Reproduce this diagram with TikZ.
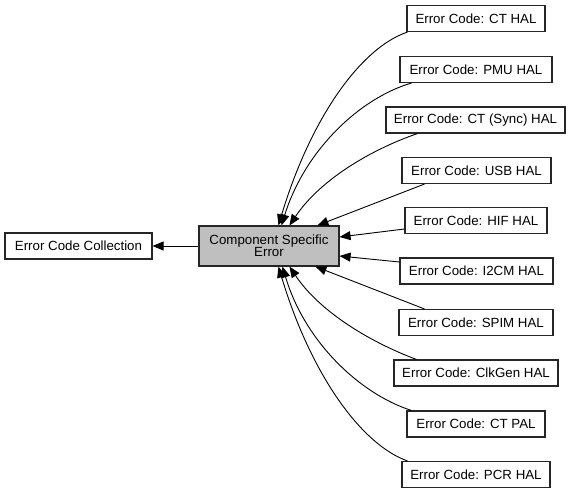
\documentclass[tikz,border=0pt]{standalone}
\usepackage{fontspec}
\setmainfont{Liberation Sans}
\usetikzlibrary{arrows.meta}
\begin{document}
\begin{tikzpicture}[x=1pt,y=-1pt,
  box/.style={draw=black!85,line width=1.1pt,fill=white,inner sep=0pt,
    minimum height=26pt,font=\fontsize{13.3}{15}\selectfont},
  arr/.style={draw=black,line width=0.9pt,-{Triangle[length=11pt,width=9pt]}}]
\useasboundingbox (0,0) rectangle (571,493);
\node[box,minimum width=147pt] (coll) at (78.5,246) {Error Code Collection};
\node[box,fill=black!25,minimum width=140pt,minimum height=40pt,align=center] (cse) at (269,246)
  {Component Specific\\[-3pt]Error};
\node[box,minimum width=138pt] (cthal) at (476,18.5) {Error Code: CT HAL};
\node[box,minimum width=152pt] (pmu) at (476,69.5) {Error Code: PMU HAL};
\node[box,minimum width=179pt] (ctsync) at (475.5,120) {Error Code: CT (Sync) HAL};
\node[box,minimum width=149pt] (usb) at (476.5,170.5) {Error Code: USB HAL};
\node[box,minimum width=142pt] (hif) at (476,220.5) {Error Code: HIF HAL};
\node[box,minimum width=153pt] (i2cm) at (476.5,271) {Error Code: I2CM HAL};
\node[box,minimum width=154pt] (spim) at (476,322.5) {Error Code: SPIM HAL};
\node[box,minimum width=164pt] (clk) at (476,373) {Error Code: ClkGen HAL};
\node[box,minimum width=138pt] (ctpal) at (476,424) {Error Code: CT PAL};
\node[box,minimum width=148pt] (pcr) at (476,474.5) {Error Code: PCR HAL};
\draw[arr] (cse.west) -- (coll.east);
\draw[arr] ([xshift=1pt]cthal.south west) .. controls (360,48) and (310,120) .. ([xshift=80pt]cse.north west);
\draw[arr] ([xshift=12pt]pmu.south west) .. controls (360,98) and (305,150) .. ([xshift=83pt]cse.north west);
\draw[arr] ([xshift=32pt]ctsync.south west) .. controls (370,150) and (320,180) .. ([xshift=91pt]cse.north west);
\draw[arr] ([xshift=23pt]usb.south west) -- ([xshift=119pt]cse.north west);
\draw[arr] ([yshift=-8.5pt]hif.west) -- ([yshift=9pt]cse.east);
\draw[arr] ([yshift=9pt]i2cm.west) -- ([yshift=-10pt]cse.east);
\draw[arr] ([xshift=26pt]spim.north west) -- ([xshift=117pt]cse.south west);
\draw[arr] ([xshift=23pt]clk.north west) .. controls (370,342) and (320,312) .. ([xshift=91pt]cse.south west);
\draw[arr] ([xshift=5pt]ctpal.north west) .. controls (360,394) and (305,342) .. ([xshift=84pt]cse.south west);
\draw[arr] ([xshift=6pt]pcr.north west) .. controls (360,444) and (310,372) .. ([xshift=80pt]cse.south west);
\end{tikzpicture}
\end{document}
